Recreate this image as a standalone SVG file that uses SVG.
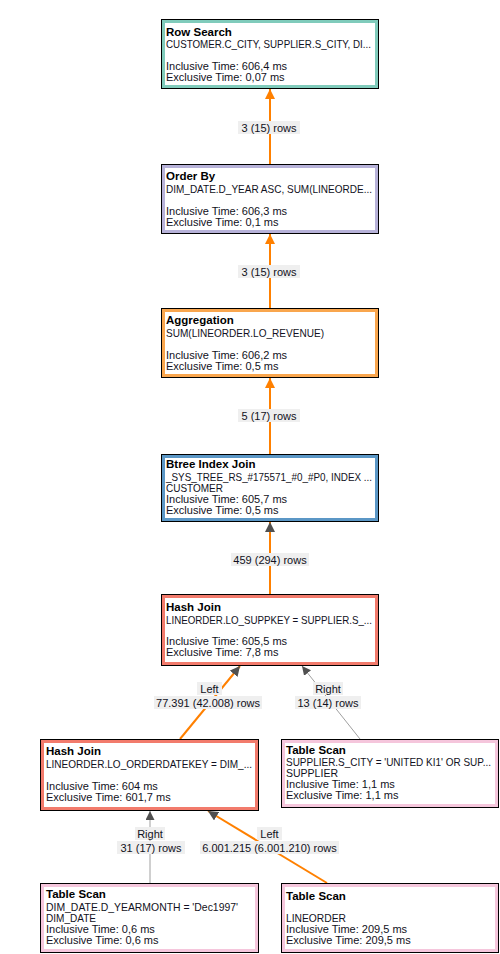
<svg xmlns="http://www.w3.org/2000/svg" width="500" height="954" viewBox="0 0 500 954">
  <style>
    text { font-family: "Liberation Sans", Arial, sans-serif; font-size: 11px; fill: #111122; }
    .title { font-weight: bold; font-size: 11.5px; fill: #000; }
    .frame { fill: #fff; stroke: #000; stroke-width: 1; }
    .band { fill: none; stroke-width: 3; }
    .hot { stroke: #ff8000; stroke-width: 2; fill: none; }
    .cold { stroke: #a0a0a0; stroke-width: 1; fill: none; }
    .lbl { fill: #efefef; }
    .lt { text-anchor: middle; }
    .narrow { font-size: 10.3px; }
  </style>
  <defs>
    <marker id="ahOrange" viewBox="0 0 10 10" refX="10" refY="5" markerWidth="5" markerHeight="5" orient="auto" markerUnits="strokeWidth">
      <path d="M0,0 L10,5 L0,10 z" fill="#ff8000"/>
    </marker>
    <marker id="ahDarkThick" viewBox="0 0 10 10" refX="10" refY="5" markerWidth="5" markerHeight="5" orient="auto" markerUnits="strokeWidth">
      <path d="M0,0 L10,5 L0,10 z" fill="#505050"/>
    </marker>
    <marker id="ahDark" viewBox="0 0 10 10" refX="10" refY="5" markerWidth="9" markerHeight="9" orient="auto" markerUnits="strokeWidth">
      <path d="M0,0 L10,5 L0,10 z" fill="#505050"/>
    </marker>
  </defs>

  <!-- connectors -->
  <g id="connectors">
    <line class="hot" x1="270" y1="164" x2="270" y2="89" marker-end="url(#ahOrange)"/>
    <rect class="lbl" x="238" y="121" width="62" height="13"/>
    <text class="lt" x="269" y="132">3 (15) rows</text>

    <line class="hot" x1="270" y1="308" x2="270" y2="234" marker-end="url(#ahOrange)"/>
    <rect class="lbl" x="238" y="265" width="62" height="13"/>
    <text class="lt" x="269" y="276">3 (15) rows</text>

    <line class="hot" x1="270" y1="454" x2="270" y2="378" marker-end="url(#ahOrange)"/>
    <rect class="lbl" x="238" y="409" width="62" height="13"/>
    <text class="lt" x="269" y="420">5 (17) rows</text>

    <line class="hot" x1="270" y1="594" x2="270" y2="522" marker-end="url(#ahDarkThick)"/>
    <rect class="lbl" x="231" y="553" width="78" height="13"/>
    <text class="lt" x="270" y="564">459 (294) rows</text>

    <!-- Hash Join (upper) inputs -->
    <line class="hot" x1="180" y1="739" x2="240" y2="666" marker-end="url(#ahDarkThick)"/>
    <rect class="lbl" x="197" y="682" width="25" height="13"/>
    <text class="lt" x="209.5" y="693">Left</text>
    <rect class="lbl" x="154" y="696" width="108" height="13"/>
    <text class="lt" x="208" y="707">77.391 (42.008) rows</text>

    <line class="cold" x1="360" y1="739" x2="302" y2="666" marker-end="url(#ahDark)"/>
    <rect class="lbl" x="313" y="682" width="30" height="13"/>
    <text class="lt" x="328" y="693">Right</text>
    <rect class="lbl" x="295" y="696" width="66" height="13"/>
    <text class="lt" x="328" y="707">13 (14) rows</text>

    <!-- Hash Join (lower) inputs -->
    <line class="cold" x1="150" y1="883" x2="150" y2="811" marker-end="url(#ahDark)"/>
    <rect class="lbl" x="135" y="827" width="30" height="13"/>
    <text class="lt" x="150" y="838">Right</text>
    <rect class="lbl" x="117" y="841" width="68" height="13"/>
    <text class="lt" x="151" y="852">31 (17) rows</text>

    <line class="hot" x1="327" y1="883" x2="208" y2="811" marker-end="url(#ahDarkThick)"/>
    <rect class="lbl" x="257" y="827" width="25" height="13"/>
    <text class="lt" x="269.5" y="838">Left</text>
    <rect class="lbl" x="200" y="841" width="139" height="13"/>
    <text class="lt" x="269.5" y="852">6.001.215 (6.001.210) rows</text>
  </g>

  <g id="rowSearch">
    <rect class="frame" x="161.5" y="19.5" width="217" height="69"/>
    <rect class="band" x="163.5" y="21.5" width="213" height="65" stroke="#80cbbb"/>
    <text class="title" x="166" y="36">Row Search</text>
    <text x="166" y="48" textLength="205" lengthAdjust="spacingAndGlyphs">CUSTOMER.C_CITY, SUPPLIER.S_CITY, DI...</text>
    <text x="166" y="70">Inclusive Time: 606,4 ms</text>
    <text x="166" y="81">Exclusive Time: 0,07 ms</text>
  </g>

  <g id="orderBy">
    <rect class="frame" x="161.5" y="164.5" width="217" height="69"/>
    <rect class="band" x="163.5" y="166.5" width="213" height="65" stroke="#b7b2d9"/>
    <text class="title" x="166" y="180">Order By</text>
    <text x="166" y="193" textLength="206" lengthAdjust="spacingAndGlyphs">DIM_DATE.D_YEAR ASC, SUM(LINEORDE...</text>
    <text x="166" y="215">Inclusive Time: 606,3 ms</text>
    <text x="166" y="226">Exclusive Time: 0,1 ms</text>
  </g>

  <g id="aggregation">
    <rect class="frame" x="161.5" y="308.5" width="217" height="69"/>
    <rect class="band" x="163.5" y="310.5" width="213" height="65" stroke="#f9a64e"/>
    <text class="title" x="166" y="324">Aggregation</text>
    <text x="166" y="337" textLength="158" lengthAdjust="spacingAndGlyphs">SUM(LINEORDER.LO_REVENUE)</text>
    <text x="166" y="359">Inclusive Time: 606,2 ms</text>
    <text x="166" y="370">Exclusive Time: 0,5 ms</text>
  </g>

  <g id="btreeIndexJoin">
    <rect class="frame" x="161.5" y="454.5" width="217" height="67"/>
    <rect class="band" x="163.5" y="456.5" width="213" height="63" stroke="#5b97c6"/>
    <text class="title" x="166" y="468">Btree Index Join</text>
    <text x="166" y="481" textLength="206" lengthAdjust="spacingAndGlyphs">_SYS_TREE_RS_#175571_#0_#P0, INDEX ...</text>
    <text x="166" y="492" textLength="57" lengthAdjust="spacingAndGlyphs">CUSTOMER</text>
    <text x="166" y="503">Inclusive Time: 605,7 ms</text>
    <text x="166" y="514">Exclusive Time: 0,5 ms</text>
  </g>

  <g id="hashJoinSupp">
    <rect class="frame" x="161.5" y="594.5" width="217" height="71"/>
    <rect class="band" x="163.5" y="596.5" width="213" height="67" stroke="#f27b6c"/>
    <text class="title" x="166" y="611">Hash Join</text>
    <text x="166" y="624" textLength="206" lengthAdjust="spacingAndGlyphs">LINEORDER.LO_SUPPKEY = SUPPLIER.S_...</text>
    <text x="166" y="645">Inclusive Time: 605,5 ms</text>
    <text x="166" y="656">Exclusive Time: 7,8 ms</text>
  </g>

  <g id="hashJoinDate">
    <rect class="frame" x="40.5" y="739.5" width="218" height="71"/>
    <rect class="band" x="42.5" y="741.5" width="214" height="67" stroke="#f27b6c"/>
    <text class="title" x="46" y="755">Hash Join</text>
    <text x="46" y="768" textLength="206" lengthAdjust="spacingAndGlyphs">LINEORDER.LO_ORDERDATEKEY = DIM_...</text>
    <text x="46" y="790">Inclusive Time: 604 ms</text>
    <text x="46" y="801">Exclusive Time: 601,7 ms</text>
  </g>

  <g id="scanSupplier">
    <rect class="frame" x="281.5" y="739.5" width="217" height="68"/>
    <rect class="band" x="283.5" y="741.5" width="213" height="64" stroke="#f5c6dc"/>
    <text class="title" x="286" y="754">Table Scan</text>
    <text class="narrow" x="286" y="766" textLength="205" lengthAdjust="spacingAndGlyphs">SUPPLIER.S_CITY = 'UNITED KI1' OR SUP...</text>
    <text x="286" y="777" textLength="52" lengthAdjust="spacingAndGlyphs">SUPPLIER</text>
    <text x="286" y="788">Inclusive Time: 1,1 ms</text>
    <text x="286" y="799">Exclusive Time: 1,1 ms</text>
  </g>

  <g id="scanDimDate">
    <rect class="frame" x="40.5" y="883.5" width="218" height="69"/>
    <rect class="band" x="42.5" y="885.5" width="214" height="65" stroke="#f5c6dc"/>
    <text class="title" x="46" y="898">Table Scan</text>
    <text x="46" y="911" textLength="192" lengthAdjust="spacingAndGlyphs">DIM_DATE.D_YEARMONTH = 'Dec1997'</text>
    <text x="46" y="922" textLength="50" lengthAdjust="spacingAndGlyphs">DIM_DATE</text>
    <text x="46" y="933">Inclusive Time: 0,6 ms</text>
    <text x="46" y="944">Exclusive Time: 0,6 ms</text>
  </g>

  <g id="scanLineorder">
    <rect class="frame" x="281.5" y="883.5" width="217" height="69"/>
    <rect class="band" x="283.5" y="885.5" width="213" height="65" stroke="#f5c6dc"/>
    <text class="title" x="286" y="900">Table Scan</text>
    <text x="286" y="922" textLength="60" lengthAdjust="spacingAndGlyphs">LINEORDER</text>
    <text x="286" y="933">Inclusive Time: 209,5 ms</text>
    <text x="286" y="944">Exclusive Time: 209,5 ms</text>
  </g>
</svg>
